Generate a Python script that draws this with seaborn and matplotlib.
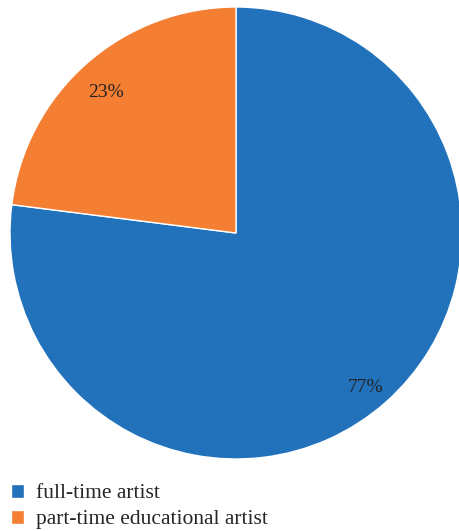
import matplotlib
matplotlib.use("Agg")
import matplotlib.pyplot as plt
import seaborn as sns

# data
labels = ["full-time artist", "part-time educational artist"]
shares = [77, 23]
colors = ["#2172BB", "#F47E32"]

sns.set_theme(style="white")
plt.rcParams["font.family"] = ["Liberation Serif", "DejaVu Serif"]

fig = plt.figure(figsize=(4.59, 5.31), dpi=100)
ax = fig.add_axes([10 / 459, 72 / 531, 452 / 459, 452 / 531])

wedges, texts, autotexts = ax.pie(
    shares,
    colors=sns.color_palette(colors),
    startangle=90,
    counterclock=False,
    autopct="%d%%",
    pctdistance=0.87,
    wedgeprops=dict(edgecolor="white", linewidth=1),
    textprops=dict(fontsize=14, color="#222222"),
)
# nudge percentage labels slightly down, as in the original
for t in autotexts:
    x, y = t.get_position()
    t.set_position((x, y - 0.03))

ax.set_xlim(-1, 1)
ax.set_ylim(-1, 1)
ax.set_aspect("equal")

fig.legend(
    wedges, labels,
    loc="upper left", bbox_to_anchor=(0.024, 0.089),
    frameon=False, fontsize=15.5, borderpad=0, borderaxespad=0,
    handlelength=0.62, handleheight=0.62, handletextpad=0.55,
    labelspacing=0.3,
)

fig.savefig("out.png", dpi=100)
